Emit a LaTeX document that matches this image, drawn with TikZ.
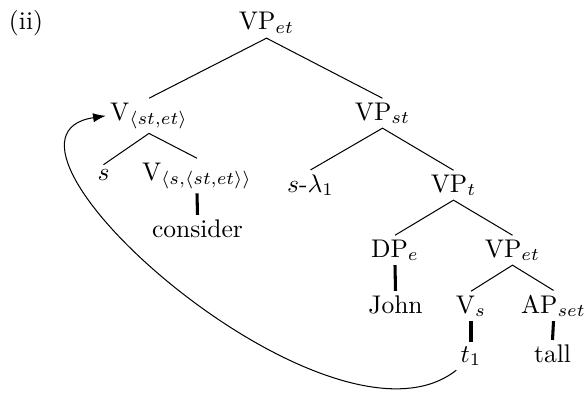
\documentclass[tikz,border=0pt]{standalone}
\usetikzlibrary{arrows.meta}
\begin{document}
\begin{tikzpicture}[
    x=0.392pt, y=-0.392pt,
    lbl/.style={anchor=base, inner sep=1.5pt},
    branch/.style={line width=0.4pt},
    unary/.style={line width=1.2pt},
    arrow/.style={-{Latex[length=5pt, width=3.6pt]}}
]
    \useasboundingbox (0,0) rectangle (586,395);
    \node[lbl] (ii) at (26,30) {(ii)};

    % upper part
    \node[lbl] (vpet) at (266.5,30) {VP$_{et}$};
    \node[lbl] (vstet) at (149,120) {V$_{\langle st,et\rangle}$};
    \node[lbl] (vpst) at (382.5,120) {VP$_{st}$};
    \node[lbl] (s) at (103.5,180) {$s$};
    \node[lbl] (vsstet) at (197,180) {V$_{\langle s,\langle st,et\rangle\rangle}$};
    \node[lbl] (consider) at (197.5,237) {consider};
    \node[lbl] (slam) at (310.5,192) {$s$-$\lambda_1$};
    \node[lbl] (vpt) at (453.5,192) {VP$_t$};

    % lower part
    \node[lbl] (dpe) at (395,257) {DP$_e$};
    \node[lbl] (vpet2) at (512.5,257) {VP$_{et}$};
    \node[lbl] (john) at (395.5,313) {John};
    \node[lbl] (vs) at (471,313) {V$_s$};
    \node[lbl] (apset) at (553.5,313) {AP$_{set}$};
    \node[lbl] (tone) at (471,362) {$t_1$};
    \node[lbl] (tall) at (552.5,362) {tall};

    \draw[branch] (vstet.north) -- (vpet.south) -- (vpst.north);
    \draw[branch] (s.north) -- (vstet.south) -- (vsstet.north);
    \draw[branch] (slam.north) -- (vpst.south) -- (vpt.north);
    \draw[branch] (dpe.north) -- (vpt.south) -- (vpet2.north);
    \draw[branch] (vs.north) -- (vpet2.south) -- (apset.north);
    \draw[unary] (vsstet.south) -- (consider.north);
    \draw[unary] (dpe.south) -- (john.north);
    \draw[unary] (vs.south) -- (tone.north);
    \draw[unary] (apset.south) -- (tall.north);

    % movement of the verb
    \draw[arrow] (tone.south west) .. controls (330,470) and (-42,138) .. (vstet.west);
\end{tikzpicture}
\end{document}
